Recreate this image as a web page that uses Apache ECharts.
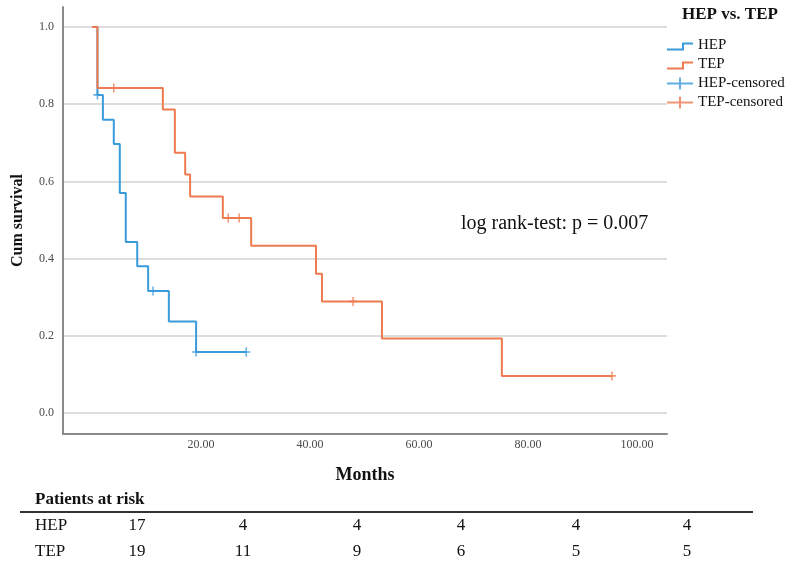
<!DOCTYPE html>
<html>
<head>
<meta charset="utf-8">
<script src="https://cdn.jsdelivr.net/npm/echarts@6/dist/echarts.min.js"></script>
<style>
html,body{margin:0;padding:0;background:#fff;}
#chart{width:798px;height:565px;}
</style>
</head>
<body>
<div id="chart"></div>
<script>
// ---- data ----
var hepTimes = [0, 1.0, 2.0, 4.0, 5.1, 6.2, 8.3, 10.3, 14.1, 19.1, 28.3];
var hepSurv  = [1.0, 0.824, 0.760, 0.697, 0.570, 0.443, 0.380, 0.316, 0.237, 0.158, 0.158];
var tepTimes = [0, 1.0, 13.0, 15.2, 17.1, 18.0, 24.0, 29.2, 41.1, 42.2, 53.2, 75.2, 95.4];
var tepSurv  = [1.0, 0.842, 0.786, 0.674, 0.618, 0.561, 0.505, 0.433, 0.361, 0.289, 0.193, 0.096, 0.096];
var hepCensorTimes = [1.0, 11.2, 19.1, 28.3];
var hepCensorSurv  = [0.824, 0.316, 0.158, 0.158];
var tepCensorTimes = [4.0, 25.0, 27.0, 47.9, 95.4];
var tepCensorSurv  = [0.842, 0.505, 0.505, 0.289, 0.096];
var xTicks = [20, 40, 60, 80, 100];
var yTicks = [0, 0.2, 0.4, 0.6, 0.8, 1.0];
var riskGroups = ['HEP', 'TEP'];
var riskHEP = [17, 4, 4, 4, 4, 4];
var riskTEP = [19, 11, 9, 6, 5, 5];
var seriesNames = ['HEP', 'TEP', 'HEP-censored', 'TEP-censored'];
var legendTitle = 'HEP vs. TEP';
var logRankText = 'log rank-test: p = 0.007';

// ---- styling / layout ----
var BLUE = '#3a9bdc', ORANGE = '#ee7b4f';
var FONT = '"Liberation Serif", "Times New Roman", serif';
function zip(a, b) { return a.map(function (v, i) { return [v, b[i]]; }); }
var stepIcon = 'path://M0,0 M26,12 M0,9 L15,9 L15,3 L26,3 L26,5 L17,5 L17,11 L0,11 Z';
var crossIcon = 'path://M0,5 L26,5 L26,7 L0,7 Z M12,0 L14,0 L14,12 L12,12 Z';
var censorSymbol = 'path://M4,0 L4,9 M0,4.5 L8,4.5';

var riskCols = [137, 243, 357, 461, 576, 687];
var riskRowsY = [526, 552];
var riskRows = [riskHEP, riskTEP];
var graphics = [
  { type: 'text', x: 35, y: 500, style: { text: 'Patients at risk', font: 'bold 17px ' + FONT, fill: '#111', textVerticalAlign: 'middle' } },
  { type: 'line', shape: { x1: 20, y1: 512, x2: 753, y2: 512 }, style: { stroke: '#333', lineWidth: 2 } },
  { type: 'text', x: 461, y: 224, style: { text: logRankText, font: '20px ' + FONT, fill: '#111', textVerticalAlign: 'middle' } }
];
riskGroups.forEach(function (g, r) {
  graphics.push({ type: 'text', x: 35, y: riskRowsY[r], style: { text: g, font: '17px ' + FONT, fill: '#111', textVerticalAlign: 'middle', textAlign: 'left' } });
  riskRows[r].forEach(function (v, c) {
    graphics.push({ type: 'text', x: riskCols[c], y: riskRowsY[r], style: { text: String(v), font: '17px ' + FONT, fill: '#111', textAlign: 'center', textVerticalAlign: 'middle' } });
  });
});

var chart = echarts.init(document.getElementById('chart'), null, { renderer: 'canvas' });
chart.setOption({
  animation: false,
  backgroundColor: '#fff',
  title: {
    text: legendTitle, left: 682, top: 6, padding: 0,
    textStyle: { fontFamily: FONT, fontSize: 17, fontWeight: 'bold', color: '#111' }
  },
  legend: {
    orient: 'vertical', left: 667, top: 38, padding: 0,
    itemWidth: 26, itemHeight: 12, itemGap: 4,
    textStyle: { fontFamily: FONT, fontSize: 15, color: '#111', lineHeight: 14 },
    data: [
      { name: seriesNames[0], icon: stepIcon, itemStyle: { color: BLUE, borderWidth: 0 } },
      { name: seriesNames[1], icon: stepIcon, itemStyle: { color: ORANGE, borderWidth: 0 } },
      { name: seriesNames[2], icon: crossIcon, itemStyle: { color: BLUE, borderWidth: 0 } },
      { name: seriesNames[3], icon: crossIcon, itemStyle: { color: ORANGE, borderWidth: 0 } }
    ]
  },
  grid: { left: 63, right: 131, top: 7, bottom: 131, containLabel: false },
  xAxis: {
    type: 'value', min: -5.32, max: 105.5,
    name: 'Months', nameLocation: 'middle', nameGap: 32,
    nameTextStyle: { fontFamily: FONT, fontSize: 18, fontWeight: 'bold', color: '#111' },
    axisLine: { show: true, onZero: false, lineStyle: { color: '#8a8a8a', width: 2 } },
    axisTick: { show: false, customValues: xTicks },
    axisLabel: { customValues: xTicks, margin: 5, fontFamily: FONT, fontSize: 12, color: '#4a4a4a',
      formatter: function (v) { return v.toFixed(2); } },
    splitLine: { show: false }
  },
  yAxis: {
    type: 'value', min: -0.0544, max: 1.0518,
    name: 'Cum survival', nameLocation: 'middle', nameRotate: 90, nameGap: 37,
    nameTextStyle: { fontFamily: FONT, fontSize: 16, fontWeight: 'bold', color: '#111' },
    axisLine: { show: true, onZero: false, lineStyle: { color: '#8a8a8a', width: 2 } },
    axisTick: { show: false, customValues: yTicks },
    axisLabel: { customValues: yTicks, margin: 9, fontFamily: FONT, fontSize: 12, color: '#4a4a4a',
      formatter: function (v) { return v.toFixed(1); } },
    splitLine: { show: true, lineStyle: { color: '#d2d2d2', width: 1.5 } }
  },
  graphic: graphics,
  series: [
    { name: seriesNames[0], type: 'line', step: 'end', symbol: 'none', data: zip(hepTimes, hepSurv),
      itemStyle: { color: BLUE }, lineStyle: { color: BLUE, width: 2 }, z: 2 },
    { name: seriesNames[1], type: 'line', step: 'end', symbol: 'none', data: zip(tepTimes, tepSurv),
      itemStyle: { color: ORANGE }, lineStyle: { color: ORANGE, width: 2 }, z: 3 },
    { name: seriesNames[2], type: 'scatter', symbol: censorSymbol, symbolSize: [8, 9], data: zip(hepCensorTimes, hepCensorSurv),
      itemStyle: { color: 'transparent', borderColor: BLUE, borderWidth: 1.6 }, z: 4 },
    { name: seriesNames[3], type: 'scatter', symbol: censorSymbol, symbolSize: [8, 9], data: zip(tepCensorTimes, tepCensorSurv),
      itemStyle: { color: 'transparent', borderColor: ORANGE, borderWidth: 1.6 }, z: 5 }
  ]
});
</script>
</body>
</html>
